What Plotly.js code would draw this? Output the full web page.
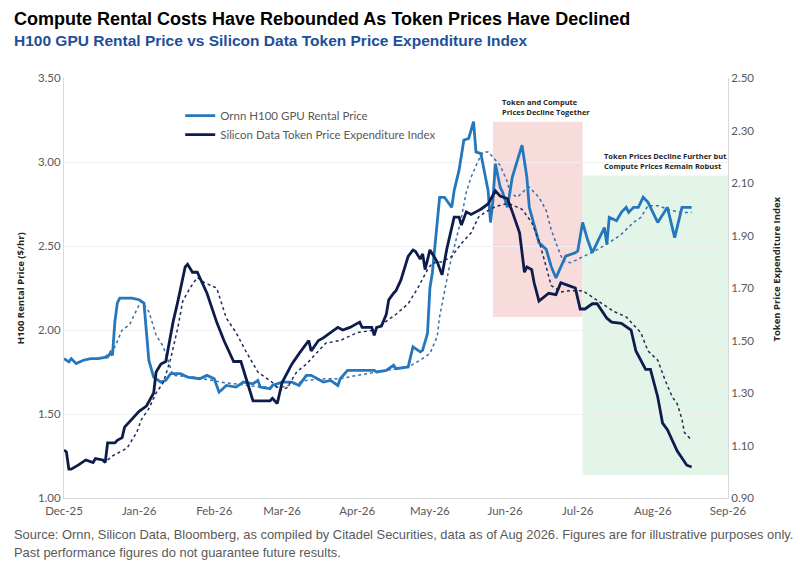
<!DOCTYPE html>
<html>
<head>
<meta charset="utf-8">
<script src="https://cdn.plot.ly/plotly-3.0.1.min.js"></script>
<style>
html,body{margin:0;padding:0;background:#fff;}
#chart{width:800px;height:568px;}
</style>
</head>
<body>
<div id="chart"></div>
<script>
// Ornn H100 GPU Rental Price ($/hr, left axis)
const ornnDates = ['2025-12-01','2025-12-03','2025-12-04','2025-12-06','2025-12-09','2025-12-12','2025-12-15','2025-12-18','2025-12-19','2025-12-20','2025-12-21','2025-12-22','2025-12-23','2025-12-24','2025-12-29','2026-01-01','2026-01-02','2026-01-03','2026-01-05','2026-01-07','2026-01-10','2026-01-12','2026-01-14','2026-01-18','2026-01-21','2026-01-26','2026-01-29','2026-02-01','2026-02-03','2026-02-06','2026-02-10','2026-02-13','2026-02-17','2026-02-19','2026-02-20','2026-02-24','2026-02-25','2026-03-01','2026-03-05','2026-03-08','2026-03-11','2026-03-13','2026-03-18','2026-03-21','2026-03-24','2026-03-25','2026-03-28','2026-04-01','2026-04-08','2026-04-09','2026-04-13','2026-04-16','2026-04-17','2026-04-22','2026-04-24','2026-04-27','2026-04-28','2026-04-30','2026-05-01','2026-05-02','2026-05-05','2026-05-07','2026-05-10','2026-05-11','2026-05-13','2026-05-15','2026-05-17','2026-05-19','2026-05-20','2026-05-22','2026-05-25','2026-05-26','2026-05-27','2026-05-28','2026-05-30','2026-05-31','2026-06-02','2026-06-04','2026-06-08','2026-06-10','2026-06-11','2026-06-15','2026-06-18','2026-06-20','2026-06-22','2026-06-26','2026-06-30','2026-07-01','2026-07-03','2026-07-05','2026-07-07','2026-07-09','2026-07-12','2026-07-13','2026-07-14','2026-07-17','2026-07-19','2026-07-21','2026-07-22','2026-07-24','2026-07-26','2026-07-28','2026-07-30','2026-08-03','2026-08-07','2026-08-10','2026-08-13','2026-08-17'];
const ornnPrice = [1.83,1.81,1.83,1.80,1.82,1.83,1.83,1.84,1.84,1.86,1.85,2.05,2.16,2.19,2.19,2.18,2.17,2.16,1.82,1.72,1.69,1.70,1.74,1.74,1.72,1.71,1.73,1.71,1.63,1.67,1.66,1.69,1.68,1.70,1.66,1.65,1.67,1.69,1.69,1.67,1.73,1.73,1.69,1.70,1.67,1.71,1.76,1.76,1.76,1.75,1.76,1.79,1.77,1.78,1.90,1.87,1.88,1.98,2.25,2.34,2.79,2.79,2.73,2.83,2.95,3.13,3.14,3.24,3.06,3.05,2.83,2.64,2.77,2.99,2.85,2.82,2.73,2.91,3.10,2.91,2.73,2.52,2.48,2.38,2.31,2.44,2.46,2.47,2.64,2.54,2.46,2.52,2.61,2.51,2.67,2.65,2.70,2.73,2.70,2.73,2.73,2.79,2.76,2.64,2.73,2.55,2.73,2.73];

// Ornn moving average (dotted)
const ornnAvgDates = ['2025-12-18','2025-12-22','2025-12-25','2025-12-28','2026-01-01','2026-01-02','2026-01-05','2026-01-08','2026-01-11','2026-01-14','2026-01-15','2026-01-23','2026-02-01','2026-02-06','2026-02-15','2026-02-20','2026-03-01','2026-03-08','2026-03-11','2026-03-19','2026-03-25','2026-04-01','2026-04-08','2026-04-13','2026-04-22','2026-04-27','2026-05-01','2026-05-04','2026-05-05','2026-05-09','2026-05-12','2026-05-14','2026-05-16','2026-05-18','2026-05-21','2026-05-23','2026-05-25','2026-05-28','2026-05-30','2026-06-02','2026-06-03','2026-06-06','2026-06-09','2026-06-11','2026-06-15','2026-06-18','2026-06-20','2026-06-23','2026-06-25','2026-06-28','2026-07-01','2026-07-04','2026-07-08','2026-07-14','2026-07-19','2026-07-24','2026-07-27','2026-07-30','2026-08-03','2026-08-09','2026-08-13','2026-08-17'];
const ornnAvg = [1.84,1.90,2.00,2.03,2.15,2.17,2.11,1.97,1.90,1.78,1.73,1.72,1.70,1.685,1.67,1.66,1.66,1.685,1.70,1.71,1.71,1.73,1.75,1.76,1.78,1.82,1.86,1.96,2.08,2.375,2.55,2.67,2.82,2.91,3.01,3.06,3.06,3.01,2.98,2.88,2.82,2.79,2.83,2.85,2.79,2.71,2.60,2.48,2.41,2.40,2.42,2.44,2.47,2.52,2.57,2.64,2.67,2.74,2.74,2.71,2.70,2.70];

// Silicon Data Token Price Expenditure Index (right axis)
const tokenDates = ['2025-12-01','2025-12-02','2025-12-03','2025-12-04','2025-12-07','2025-12-10','2025-12-13','2025-12-14','2025-12-17','2025-12-18','2025-12-19','2025-12-22','2025-12-23','2025-12-25','2025-12-26','2025-12-28','2025-12-31','2026-01-01','2026-01-04','2026-01-07','2026-01-08','2026-01-10','2026-01-12','2026-01-13','2026-01-15','2026-01-17','2026-01-19','2026-01-20','2026-01-21','2026-01-23','2026-01-25','2026-01-29','2026-02-02','2026-02-05','2026-02-09','2026-02-12','2026-02-14','2026-02-17','2026-02-19','2026-02-24','2026-02-25','2026-02-27','2026-03-01','2026-03-04','2026-03-05','2026-03-08','2026-03-11','2026-03-12','2026-03-13','2026-03-16','2026-03-18','2026-03-21','2026-03-24','2026-03-26','2026-03-29','2026-04-02','2026-04-03','2026-04-07','2026-04-08','2026-04-09','2026-04-11','2026-04-13','2026-04-14','2026-04-16','2026-04-17','2026-04-19','2026-04-22','2026-04-24','2026-04-25','2026-04-27','2026-04-28','2026-04-29','2026-05-01','2026-05-04','2026-05-06','2026-05-08','2026-05-11','2026-05-13','2026-05-14','2026-05-16','2026-05-18','2026-05-20','2026-05-22','2026-05-25','2026-05-28','2026-05-30','2026-06-02','2026-06-04','2026-06-07','2026-06-09','2026-06-10','2026-06-12','2026-06-13','2026-06-15','2026-06-19','2026-06-22','2026-06-24','2026-06-27','2026-06-30','2026-07-02','2026-07-04','2026-07-07','2026-07-09','2026-07-13','2026-07-15','2026-07-19','2026-07-23','2026-07-25','2026-07-27','2026-07-29','2026-07-31','2026-08-03','2026-08-05','2026-08-07','2026-08-11','2026-08-15','2026-08-17'];
const tokenIndex = [1.083,1.075,1.01,1.01,1.026,1.045,1.035,1.05,1.045,1.035,1.11,1.11,1.12,1.13,1.17,1.19,1.22,1.23,1.25,1.30,1.38,1.41,1.42,1.475,1.57,1.65,1.73,1.78,1.79,1.76,1.76,1.68,1.57,1.50,1.42,1.42,1.36,1.27,1.27,1.27,1.28,1.26,1.34,1.39,1.41,1.45,1.49,1.50,1.46,1.50,1.51,1.53,1.55,1.54,1.55,1.57,1.55,1.55,1.52,1.55,1.555,1.60,1.655,1.68,1.69,1.73,1.82,1.845,1.84,1.81,1.83,1.77,1.845,1.80,1.75,1.85,1.97,1.97,1.94,1.99,1.98,1.99,2.00,2.02,2.07,2.05,2.04,1.99,1.91,1.76,1.78,1.77,1.72,1.65,1.68,1.675,1.72,1.71,1.70,1.62,1.62,1.64,1.64,1.585,1.57,1.565,1.54,1.46,1.425,1.39,1.39,1.285,1.185,1.16,1.08,1.025,1.018];

// Token index moving average (dotted)
const tokenAvgDates = ['2025-12-19','2025-12-21','2025-12-27','2025-12-31','2026-01-02','2026-01-05','2026-01-08','2026-01-11','2026-01-14','2026-01-17','2026-01-19','2026-01-22','2026-01-25','2026-01-28','2026-02-02','2026-02-06','2026-02-10','2026-02-14','2026-02-19','2026-02-25','2026-02-28','2026-03-03','2026-03-07','2026-03-11','2026-03-15','2026-03-19','2026-03-25','2026-04-01','2026-04-08','2026-04-11','2026-04-17','2026-04-22','2026-04-26','2026-04-30','2026-05-02','2026-05-06','2026-05-10','2026-05-14','2026-05-18','2026-05-21','2026-05-24','2026-05-28','2026-06-01','2026-06-03','2026-06-08','2026-06-12','2026-06-15','2026-06-18','2026-06-20','2026-06-24','2026-06-28','2026-07-03','2026-07-08','2026-07-12','2026-07-16','2026-07-21','2026-07-25','2026-07-27','2026-07-30','2026-08-03','2026-08-06','2026-08-09','2026-08-11','2026-08-13','2026-08-14','2026-08-17'];
const tokenAvg = [1.045,1.06,1.09,1.15,1.20,1.24,1.30,1.34,1.43,1.55,1.65,1.70,1.74,1.72,1.70,1.585,1.53,1.46,1.38,1.34,1.31,1.32,1.38,1.41,1.45,1.49,1.50,1.53,1.54,1.56,1.60,1.64,1.70,1.77,1.795,1.80,1.82,1.87,1.91,1.97,1.99,2.01,2.02,2.02,2.00,1.95,1.88,1.78,1.71,1.685,1.69,1.69,1.66,1.635,1.61,1.59,1.55,1.53,1.46,1.425,1.35,1.285,1.26,1.20,1.15,1.12];

const ornnName = 'Ornn H100 GPU Rental Price';
const tokenName = 'Silicon Data Token Price Expenditure Index';

const lightBlue = '#2577bd';
const navy = '#0e1c4c';

const traces = [
  {x: ornnAvgDates, y: ornnAvg, type:'scatter', mode:'lines', yaxis:'y',
   line:{color:'#3a6fa8', width:1.5, dash:'dot'}, showlegend:false, hoverinfo:'skip'},
  {x: tokenAvgDates, y: tokenAvg, type:'scatter', mode:'lines', yaxis:'y2',
   line:{color:'#1f2d57', width:1.5, dash:'dot'}, showlegend:false, hoverinfo:'skip'},
  {x: ornnDates, y: ornnPrice, type:'scatter', mode:'lines', name: ornnName, yaxis:'y',
   line:{color: lightBlue, width:2.8}},
  {x: tokenDates, y: tokenIndex, type:'scatter', mode:'lines', name: tokenName, yaxis:'y2',
   line:{color: navy, width:2.8}}
];

const tickFont = {family:'Lato, "Open Sans", sans-serif', size:11.5, color:'#595959'};
const titleFam = 'Liberation Sans, Arial, sans-serif';

const layout = {
  width:800, height:568,
  margin:{l:64, r:72, t:78, b:70},
  paper_bgcolor:'#ffffff', plot_bgcolor:'rgba(0,0,0,0)',
  showlegend:true,
  legend:{x:0.175, y:0.945, xanchor:'left', yanchor:'top', bgcolor:'rgba(0,0,0,0)',
          font:{family:'Lato, "Open Sans", sans-serif', size:11.5, color:'#595959'},
          tracegroupgap:0, itemwidth:30},
  xaxis:{type:'date', range:['2025-12-01','2026-09-01'], dtick:'M1', tick0:'2025-12-01',
         tickformat:'%b-%y', tickfont:tickFont, showgrid:false, zeroline:false,
         showline:true, linecolor:'#d9d9d9', linewidth:1, ticks:'', ticklabelstandoff:2},
  yaxis:{range:[1,3.5], dtick:0.5, tickformat:'.2f', tickfont:tickFont,
         showgrid:true, gridcolor:'#f0f0f0', gridwidth:1, zeroline:false,
         showline:true, linecolor:'#d9d9d9', linewidth:1, ticks:''},
  yaxis2:{range:[0.9,2.5], tick0:0.9, dtick:0.2, tickformat:'.2f', tickfont:tickFont,
          overlaying:'y', side:'right', showgrid:false, zeroline:false,
          showline:true, linecolor:'#d9d9d9', linewidth:1, ticks:''},
  shapes:[
    {type:'rect', xref:'x', yref:'y', x0:'2026-05-27', x1:'2026-07-03', y0:2.077, y1:3.24,
     fillcolor:'#f8dcdc', line:{width:0}, layer:'below'},
    {type:'rect', xref:'x', yref:'y', x0:'2026-07-03', x1:'2026-09-01', y0:1.137, y1:2.92,
     fillcolor:'#e3f5e9', line:{width:0}, layer:'below'}
  ],
  annotations:[
    {xref:'paper', yref:'paper', x:-0.078, y:1.140, xanchor:'left', yanchor:'middle', showarrow:false,
     text:'<b>Compute Rental Costs Have Rebounded As Token Prices Have Declined</b>',
     font:{family:titleFam, size:18, color:'#000000'}},
    {xref:'paper', yref:'paper', x:-0.078, y:1.090, xanchor:'left', yanchor:'middle', showarrow:false,
     text:'<b>H100 GPU Rental Price vs Silicon Data Token Price Expenditure Index</b>',
     font:{family:titleFam, size:15.5, color:'#1d4f9b'}},
    {xref:'paper', yref:'paper', x:-0.078, y:-0.088, xanchor:'left', yanchor:'middle', showarrow:false, align:'left',
     text:'Source: Ornn, Silicon Data, Bloomberg, as compiled by Citadel Securities, data as of Aug 2026. Figures are for illustrative purposes only.',
     font:{family:titleFam, size:12.9, color:'#595959'}},
    {xref:'paper', yref:'paper', x:-0.078, y:-0.129, xanchor:'left', yanchor:'middle', showarrow:false, align:'left',
     text:'Past performance figures do not guarantee future results.',
     font:{family:titleFam, size:12.9, color:'#595959'}},
    {xref:'paper', yref:'paper', x:-0.066, y:0.5, xanchor:'center', yanchor:'middle', showarrow:false, textangle:-90,
     text:'<b>H100 Rental Price ($/hr)</b>',
     font:{family:'"Open Sans", sans-serif', size:9.5, color:'#262626'}},
    {xref:'paper', yref:'paper', x:1.073, y:0.545, xanchor:'center', yanchor:'middle', showarrow:false, textangle:-90,
     text:'<b>Token Price Expenditure Index</b>',
     font:{family:'"Open Sans", sans-serif', size:9.5, color:'#262626'}},
    {xref:'x', yref:'y', x:'2026-05-30', y:3.24, xanchor:'left', yanchor:'bottom', yshift:3, showarrow:false, align:'left',
     text:'<b>Token and Compute<br>Prices Decline Together</b>',
     font:{family:'"Open Sans", sans-serif', size:7.5, color:'#262626'}},
    {xref:'x', yref:'y', x:'2026-07-11', y:2.92, xanchor:'left', yanchor:'bottom', yshift:2, showarrow:false, align:'left',
     text:'<b>Token Prices Decline Further but<br>Compute Prices Remain Robust</b>',
     font:{family:'"Open Sans", sans-serif', size:7.5, color:'#262626'}}
  ]
};

Plotly.newPlot('chart', traces, layout, {staticPlot:true, displayModeBar:false});
</script>
</body>
</html>
